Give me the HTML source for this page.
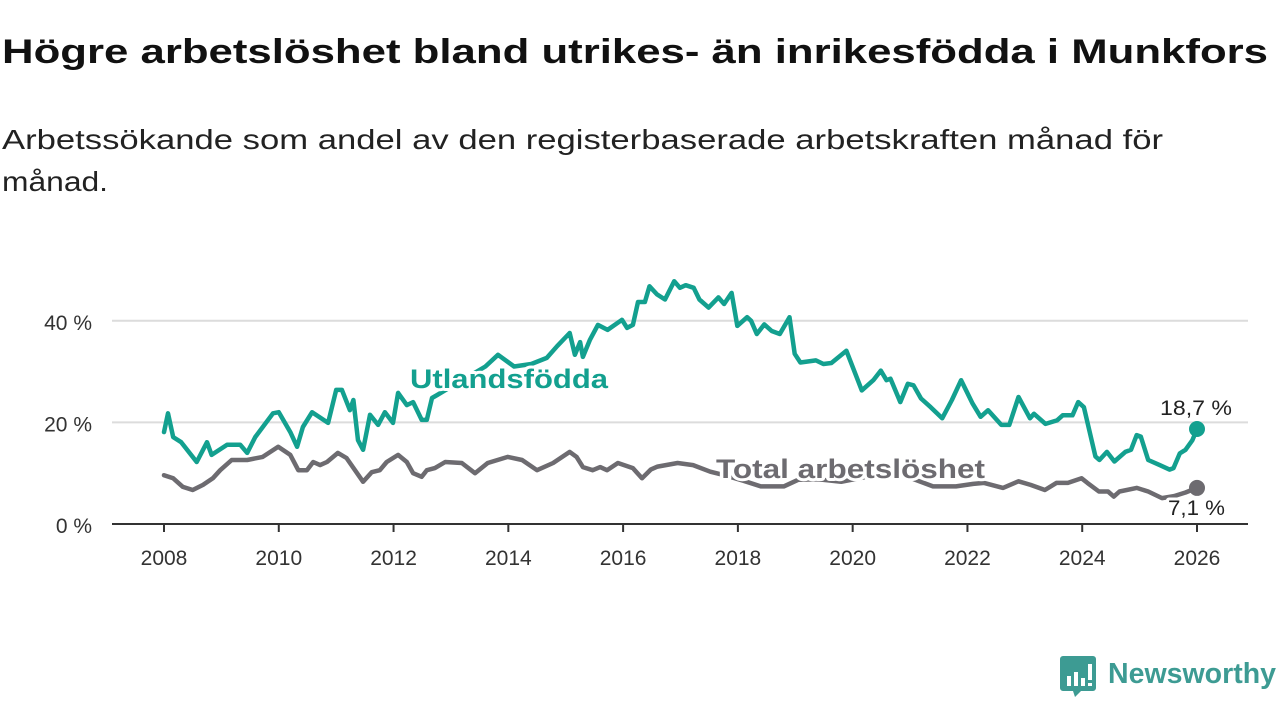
<!DOCTYPE html>
<html><head><meta charset="utf-8"><style>
html,body{margin:0;padding:0;background:#fff;}
svg{display:block;font-family:"Liberation Sans","DejaVu Sans",sans-serif;}
</style></head><body>
<svg id="chart" width="1280" height="720" viewBox="0 0 1280 720">
<text x="2" y="63" font-size="34" font-weight="bold" fill="#111" textLength="1266" lengthAdjust="spacingAndGlyphs">Högre arbetslöshet bland utrikes- än inrikesfödda i Munkfors</text>
<text x="2" y="149" font-size="28" fill="#222" textLength="1161" lengthAdjust="spacingAndGlyphs">Arbetssökande som andel av den registerbaserade arbetskraften månad för</text>
<text x="2" y="191" font-size="28" fill="#222" textLength="106" lengthAdjust="spacingAndGlyphs">månad.</text>
<g id="grid"></g>
<g id="axes"></g>
<g id="series"></g>
<g id="labels"></g>
<g>
<path d="M1063 656 h30 a3 3 0 0 1 3 3 v29 a3 3 0 0 1 -3 3 h-12 l-6 6 l-2 -6 h-10 a3 3 0 0 1 -3 -3 v-29 a3 3 0 0 1 3 -3z" fill="#3d9b93"/>
<rect x="1067" y="676" width="4" height="10" fill="#fff"/><rect x="1074" y="672" width="4" height="14" fill="#fff"/><rect x="1081" y="678" width="4" height="8" fill="#fff"/><rect x="1088" y="664" width="4" height="16" fill="#fff"/><rect x="1088" y="683" width="4" height="3" fill="#fff"/>
<text x="1108" y="683" font-size="29" font-weight="bold" fill="#3d9b93" textLength="168" lengthAdjust="spacingAndGlyphs">Newsworthy</text>
</g>
</svg>
<script>
const yTicks = [0, 20, 40];
const yTickLabels = ["0 %", "20 %", "40 %"];
const xTicks = [2008, 2010, 2012, 2014, 2016, 2018, 2020, 2022, 2024, 2026];
const foreignDates = [2008.0,2008.07,2008.16,2008.3,2008.57,2008.75,2008.83,2009.1,2009.33,2009.45,2009.59,2009.9,2010.0,2010.2,2010.32,2010.42,2010.58,2010.86,2011.0,2011.1,2011.24,2011.3,2011.38,2011.47,2011.59,2011.73,2011.85,2011.99,2012.08,2012.23,2012.34,2012.49,2012.58,2012.67,2012.76,2013.0,2013.3,2013.6,2013.82,2014.1,2014.4,2014.67,2014.85,2015.07,2015.16,2015.25,2015.3,2015.42,2015.56,2015.73,2015.98,2016.07,2016.17,2016.26,2016.38,2016.46,2016.59,2016.73,2016.89,2016.99,2017.09,2017.23,2017.33,2017.49,2017.66,2017.76,2017.89,2017.99,2018.16,2018.23,2018.33,2018.46,2018.59,2018.73,2018.9,2018.99,2019.09,2019.36,2019.49,2019.63,2019.89,2020.16,2020.36,2020.49,2020.59,2020.66,2020.83,2020.96,2021.06,2021.19,2021.36,2021.56,2021.73,2021.89,2022.09,2022.23,2022.36,2022.59,2022.73,2022.89,2023.09,2023.16,2023.36,2023.56,2023.66,2023.83,2023.93,2024.03,2024.23,2024.3,2024.43,2024.56,2024.75,2024.85,2024.95,2025.02,2025.15,2025.35,2025.52,2025.59,2025.7,2025.8,2025.92,2026.0];
const foreignValues = [18.1,21.8,17.1,16.1,12.2,16.1,13.6,15.6,15.6,14,17.1,21.8,22,18.1,15.2,19.1,22,19.9,26.4,26.4,22.4,24.4,16.5,14.6,21.5,19.5,22,19.9,25.8,23.4,24,20.5,20.5,24.8,25.4,27,29,31,33.3,31,31.5,32.7,35,37.6,33.3,35.8,32.9,36.2,39.2,38.2,40.2,38.6,39.2,43.7,43.7,46.8,45.2,44.2,47.8,46.5,47,46.5,44.2,42.6,44.6,43.3,45.5,39,40.7,40,37.4,39.3,38,37.4,40.7,33.5,31.8,32.2,31.5,31.7,34.1,26.3,28.3,30.2,28.3,28.6,24,27.6,27.3,24.7,23,20.8,24.4,28.3,23.7,21.1,22.4,19.5,19.5,25,20.8,21.7,19.7,20.4,21.4,21.4,24,23,13.3,12.6,14.2,12.3,14.2,14.6,17.5,17.2,12.6,11.6,10.7,11,13.9,14.6,16.5,18.7];
const totalDates = [2008.0,2008.16,2008.33,2008.5,2008.68,2008.85,2008.98,2009.18,2009.45,2009.72,2009.99,2010.2,2010.34,2010.49,2010.6,2010.72,2010.84,2011.03,2011.18,2011.47,2011.62,2011.76,2011.88,2012.08,2012.23,2012.34,2012.49,2012.58,2012.72,2012.9,2013.19,2013.42,2013.64,2013.99,2014.24,2014.5,2014.78,2015.07,2015.19,2015.3,2015.47,2015.6,2015.72,2015.91,2016.17,2016.33,2016.48,2016.6,2016.95,2017.22,2017.52,2017.8,2018.1,2018.4,2018.8,2019.05,2019.4,2019.8,2020.2,2020.5,2020.9,2021.4,2021.8,2022.1,2022.29,2022.62,2022.89,2023.1,2023.35,2023.55,2023.75,2023.99,2024.09,2024.29,2024.45,2024.55,2024.65,2024.95,2025.15,2025.39,2025.6,2025.8,2026.0];
const totalValues = [9.6,9,7.3,6.7,7.7,9,10.6,12.6,12.6,13.2,15.2,13.6,10.6,10.6,12.2,11.6,12.2,14,13,8.3,10.2,10.6,12.2,13.6,12.2,10,9.3,10.6,11,12.2,12,10,12,13.2,12.6,10.6,12,14.2,13.2,11.2,10.6,11.2,10.6,12,11,9,10.7,11.3,12,11.6,10.3,9.5,8.5,7.4,7.4,8.7,8.8,8.3,9.2,10.5,9.5,7.4,7.4,7.9,8.1,7.1,8.4,7.7,6.7,8.1,8.1,9,8.1,6.4,6.4,5.4,6.4,7.1,6.4,5.1,5.5,6.2,7.1];

const NS = "http://www.w3.org/2000/svg";
const x = y => 164 + (y - 2008) * (1197 - 164) / 18;
const yv = v => 524 - v * 5.08;
function mk(tag, attrs, parent) {
  const e = document.createElementNS(NS, tag);
  for (const k in attrs) e.setAttribute(k, attrs[k]);
  parent.appendChild(e);
  return e;
}
const grid = document.getElementById('grid');
const axes = document.getElementById('axes');
const series = document.getElementById('series');
const labels = document.getElementById('labels');

yTicks.forEach((t, i) => {
  if (t > 0) {
    const gl = mk('line', {x1: 112, x2: 1248, y1: yv(t), y2: yv(t), stroke: '#dcdcdc', 'stroke-width': 2}, grid);
    
    
  }
  const tl = mk('text', {x: 92, y: yv(t) + 9, 'font-size': 21, fill: '#333', 'text-anchor': 'end'}, axes);
  tl.textContent = yTickLabels[i];
  
  
});
const ax = mk('line', {x1: 112, x2: 1248, y1: 524, y2: 524, stroke: '#333', 'stroke-width': 2}, axes);


xTicks.forEach(t => {
  const tk = mk('line', {x1: x(t), x2: x(t), y1: 524, y2: 532, stroke: '#333', 'stroke-width': 2}, axes);
  
  
  const tl = mk('text', {x: x(t), y: 565, 'font-size': 21, fill: '#333', 'text-anchor': 'middle'}, axes);
  tl.textContent = String(t);
  
  
});

function line(dates, vals, color, name) {
  const d = dates.map((t, i) => (i ? 'L' : 'M') + x(t).toFixed(1) + ' ' + yv(vals[i]).toFixed(1)).join(' ');
  const p = mk('path', {d: d, fill: 'none', stroke: color, 'stroke-width': 4.5, 'stroke-linejoin': 'round', 'stroke-linecap': 'round'}, series);
  
  
  const n = dates.length - 1;
  const c = mk('circle', {cx: x(dates[n]), cy: yv(vals[n]), r: 8, fill: color}, series);
  
  
}
line(totalDates, totalValues, '#6d6b70', 'total-line');
line(foreignDates, foreignValues, '#13a08f', 'foreign-born-line');

function lbl(txt, xx, yy, size, color, bold, len, name) {
  const t = mk('text', {x: xx, y: yy, 'font-size': size, fill: color, 'font-weight': bold ? 'bold' : 'normal', stroke: '#fff', 'stroke-width': 6, 'paint-order': 'stroke', 'stroke-linejoin': 'round', textLength: len, lengthAdjust: 'spacingAndGlyphs'}, labels);
  t.textContent = txt;
  
  
}
lbl('Utlandsfödda', 410, 388, 27, '#13a08f', true, 198, 'foreign-born-label');
lbl('Total arbetslöshet', 716, 478, 27, '#6d6b70', true, 269, 'total-label');
lbl('18,7 %', 1160, 415, 21, '#222', false, 72, 'foreign-born-end-value');
lbl('7,1 %', 1168, 515, 21, '#222', false, 57, 'total-end-value');
</script>
</body></html>
